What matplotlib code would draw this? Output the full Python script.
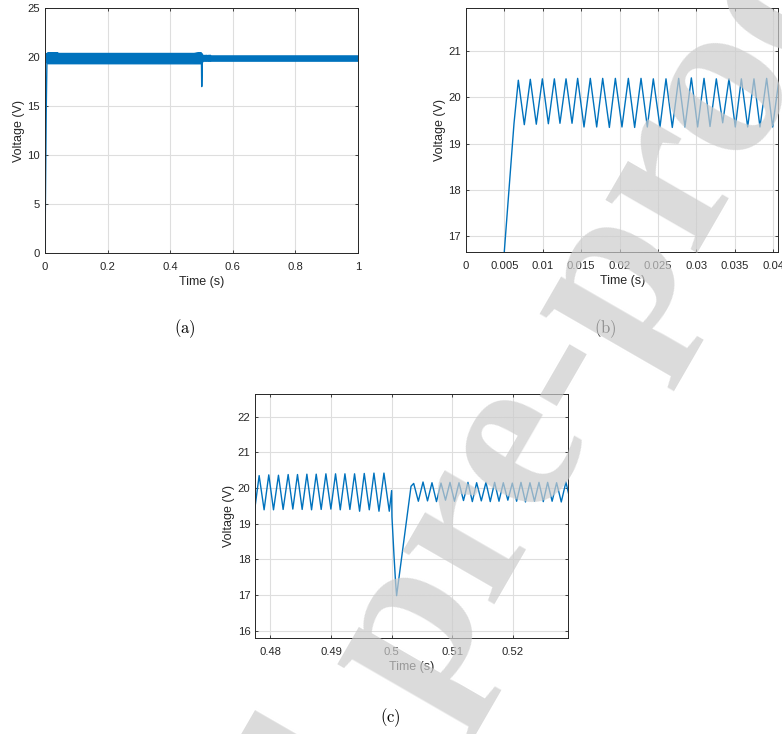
import numpy as np
import matplotlib.pyplot as plt
from matplotlib.ticker import FormatStrFormatter

# start-up of the output voltage, panel (b)
rise_t = [0.0, 0.0040, 0.0050, 0.00625]
rise_v = [0.0, 14.4, 16.7, 19.44]
start_peak_t = [0.00681, 0.00837, 0.00994, 0.01150, 0.01302, 0.01453, 0.01618, 0.01779,
                0.01944, 0.02113, 0.02278, 0.02438, 0.02603, 0.02768, 0.02933, 0.03098,
                0.03258, 0.03423, 0.03584, 0.03748, 0.03913, 0.04075]
start_peak_v = [20.37, 20.39, 20.40, 20.40, 20.40, 20.41, 20.41, 20.41, 20.41, 20.41, 20.41,
                20.40, 20.40, 20.41, 20.42, 20.41, 20.40, 20.40, 20.40, 20.40, 20.41, 20.41]
start_trough_t = [0.00759, 0.00915, 0.01072, 0.01223, 0.01380, 0.01536, 0.01701, 0.01866,
                  0.02030, 0.02195, 0.02360, 0.02525, 0.02685, 0.02850, 0.03015, 0.03176,
                  0.03341, 0.03505, 0.03666, 0.03826, 0.03991]
start_trough_v = [19.41, 19.42, 19.43, 19.44, 19.44, 19.36, 19.36, 19.35, 19.36, 19.35, 19.36,
                  19.36, 19.35, 19.36, 19.36, 19.37, 19.45, 19.36, 19.36, 19.36, 19.36]

# load step at t = 0.5 s, panel (c)
pre_peak_t = [0.47813, 0.47972, 0.48132, 0.48292, 0.48446, 0.48601, 0.48755, 0.48915,
              0.49074, 0.49229, 0.49388, 0.49548, 0.49708, 0.49873]
pre_peak_v = [20.35, 20.37, 20.36, 20.38, 20.38, 20.39, 20.39, 20.40, 20.40, 20.40, 20.40,
              20.41, 20.42, 20.42]
pre_trough_t = [0.47740, 0.47895, 0.48050, 0.48209, 0.48369, 0.48523, 0.48678, 0.48837,
                0.48997, 0.49152, 0.49311, 0.49471, 0.49631, 0.49791, 0.49961]
pre_trough_v = [19.40, 19.39, 19.39, 19.40, 19.41, 19.40, 19.39, 19.40, 19.41, 19.39, 19.40,
                19.35, 19.39, 19.35, 19.35]
dip_t = [0.50000, 0.50005, 0.50040, 0.50066, 0.50082, 0.50200, 0.50320]
dip_v = [19.93, 19.20, 18.07, 17.33, 16.98, 18.50, 20.05]
post_peak_t = [0.50364, 0.50518, 0.50666, 0.50815, 0.50963, 0.51112, 0.51260, 0.51403,
               0.51557, 0.51700, 0.51843, 0.51992, 0.52135, 0.52283, 0.52432, 0.52575,
               0.52723, 0.52877]
post_peak_v = [20.13, 20.17, 20.15, 20.14, 20.16, 20.15, 20.16, 20.15, 20.16, 20.16, 20.15,
               20.14, 20.16, 20.15, 20.16, 20.16, 20.15, 20.17]
post_trough_t = [0.50441, 0.50592, 0.50740, 0.50889, 0.51037, 0.51186, 0.51332, 0.51480,
                 0.51628, 0.51772, 0.51918, 0.52063, 0.52209, 0.52358, 0.52503, 0.52649,
                 0.52800, 0.52951]
post_trough_v = [19.63, 19.64, 19.62, 19.66, 19.63, 19.65, 19.62, 19.64, 19.62, 19.63, 19.66,
                 19.63, 19.61, 19.63, 19.62, 19.63, 19.61, 19.62]

# ripple band over the whole run, panel (a)
band_t = [0.0068, 0.4996, 0.5035, 1.0]
band_hi = [20.41, 20.41, 20.16, 20.16]
band_lo = [19.37, 19.36, 19.63, 19.63]

BLUE = '#0072BD'
DARK = '#262626'


def merge(*pairs):
    t = np.concatenate([np.asarray(p[0], float) for p in pairs])
    v = np.concatenate([np.asarray(p[1], float) for p in pairs])
    order = np.argsort(t)
    return t[order], v[order]


def matlab_axes(ax, xlim, ylim, xticks, yticks):
    ax.set_xlim(xlim)
    ax.set_ylim(ylim)
    ax.set_xticks(xticks)
    ax.set_yticks(yticks)
    ax.xaxis.set_major_formatter(FormatStrFormatter('%g'))
    ax.yaxis.set_major_formatter(FormatStrFormatter('%g'))
    ax.grid(True, color='#dedede', linewidth=0.8)
    ax.set_axisbelow(True)
    ax.set_facecolor('none')
    ax.tick_params(direction='in', length=2.5, width=0.6, top=True, right=True,
                   colors=DARK, labelsize=8.1)
    ax.tick_params(axis='x', pad=6.5)
    ax.tick_params(axis='y', pad=3.5)
    for s in ax.spines.values():
        s.set_color(DARK)
        s.set_linewidth(0.7)
    ax.set_xlabel('Time (s)', fontsize=9.0, color=DARK, labelpad=3)
    ax.set_ylabel('Voltage (V)', fontsize=9.0, color=DARK, labelpad=2)


plt.rcParams['font.family'] = ['Liberation Sans', 'DejaVu Sans']

t_start, v_start = merge((rise_t, rise_v), (start_peak_t, start_peak_v),
                         (start_trough_t, start_trough_v))
t_step, v_step = merge((pre_peak_t, pre_peak_v), (pre_trough_t, pre_trough_v),
                       (dip_t, dip_v), (post_peak_t, post_peak_v),
                       (post_trough_t, post_trough_v))

fig = plt.figure(figsize=(7.82, 7.34), dpi=100)

ax_a = fig.add_axes([0.0575, 0.6553, 0.4003, 0.3338])
ax_a.fill_between(band_t, band_lo, band_hi, color=BLUE, linewidth=1.0)
ax_a.plot(t_start, v_start, color=BLUE, linewidth=1.0)
ax_a.plot(t_step, v_step, color=BLUE, linewidth=1.0)
matlab_axes(ax_a, (0, 1), (0, 25), np.arange(0, 1.01, 0.2), np.arange(0, 26, 5))

ax_b = fig.add_axes([0.5959, 0.6567, 0.3994, 0.3324])
ax_b.plot(t_start, v_start, color=BLUE, linewidth=1.0)
matlab_axes(ax_b, (0, 0.04065), (16.66, 21.93), np.arange(0, 0.0401, 0.005), np.arange(17, 22))

ax_c = fig.add_axes([0.3265, 0.1312, 0.4003, 0.3320])
ax_c.plot(t_step, v_step, color=BLUE, linewidth=1.0)
matlab_axes(ax_c, (0.4775, 0.52917), (15.8, 22.64), np.arange(0.48, 0.5201, 0.01), np.arange(16, 23))

for label, x, y in [('(a)', 185, 329), ('(b)', 605, 329), ('(c)', 390, 718)]:
    fig.text(x / 782, 1 - y / 734, r'$\mathrm{%s}$' % label, fontsize=12,
             math_fontfamily='cm', ha='center', va='center', color='black')

# pre-proof watermark on top of everything
wm = dict(fontsize=166, family='Liberation Serif', weight='bold', rotation=60,
          rotation_mode='anchor', va='baseline', color='#cccccc', alpha=0.7, zorder=10)
fig.text(427 / 782, 1 - 717 / 734, 'pre-proof', ha='left', **wm)
fig.text(398 / 782, 1 - 767 / 734, 'Journal', ha='right', **wm)

fig.savefig('out.png', dpi=100)
